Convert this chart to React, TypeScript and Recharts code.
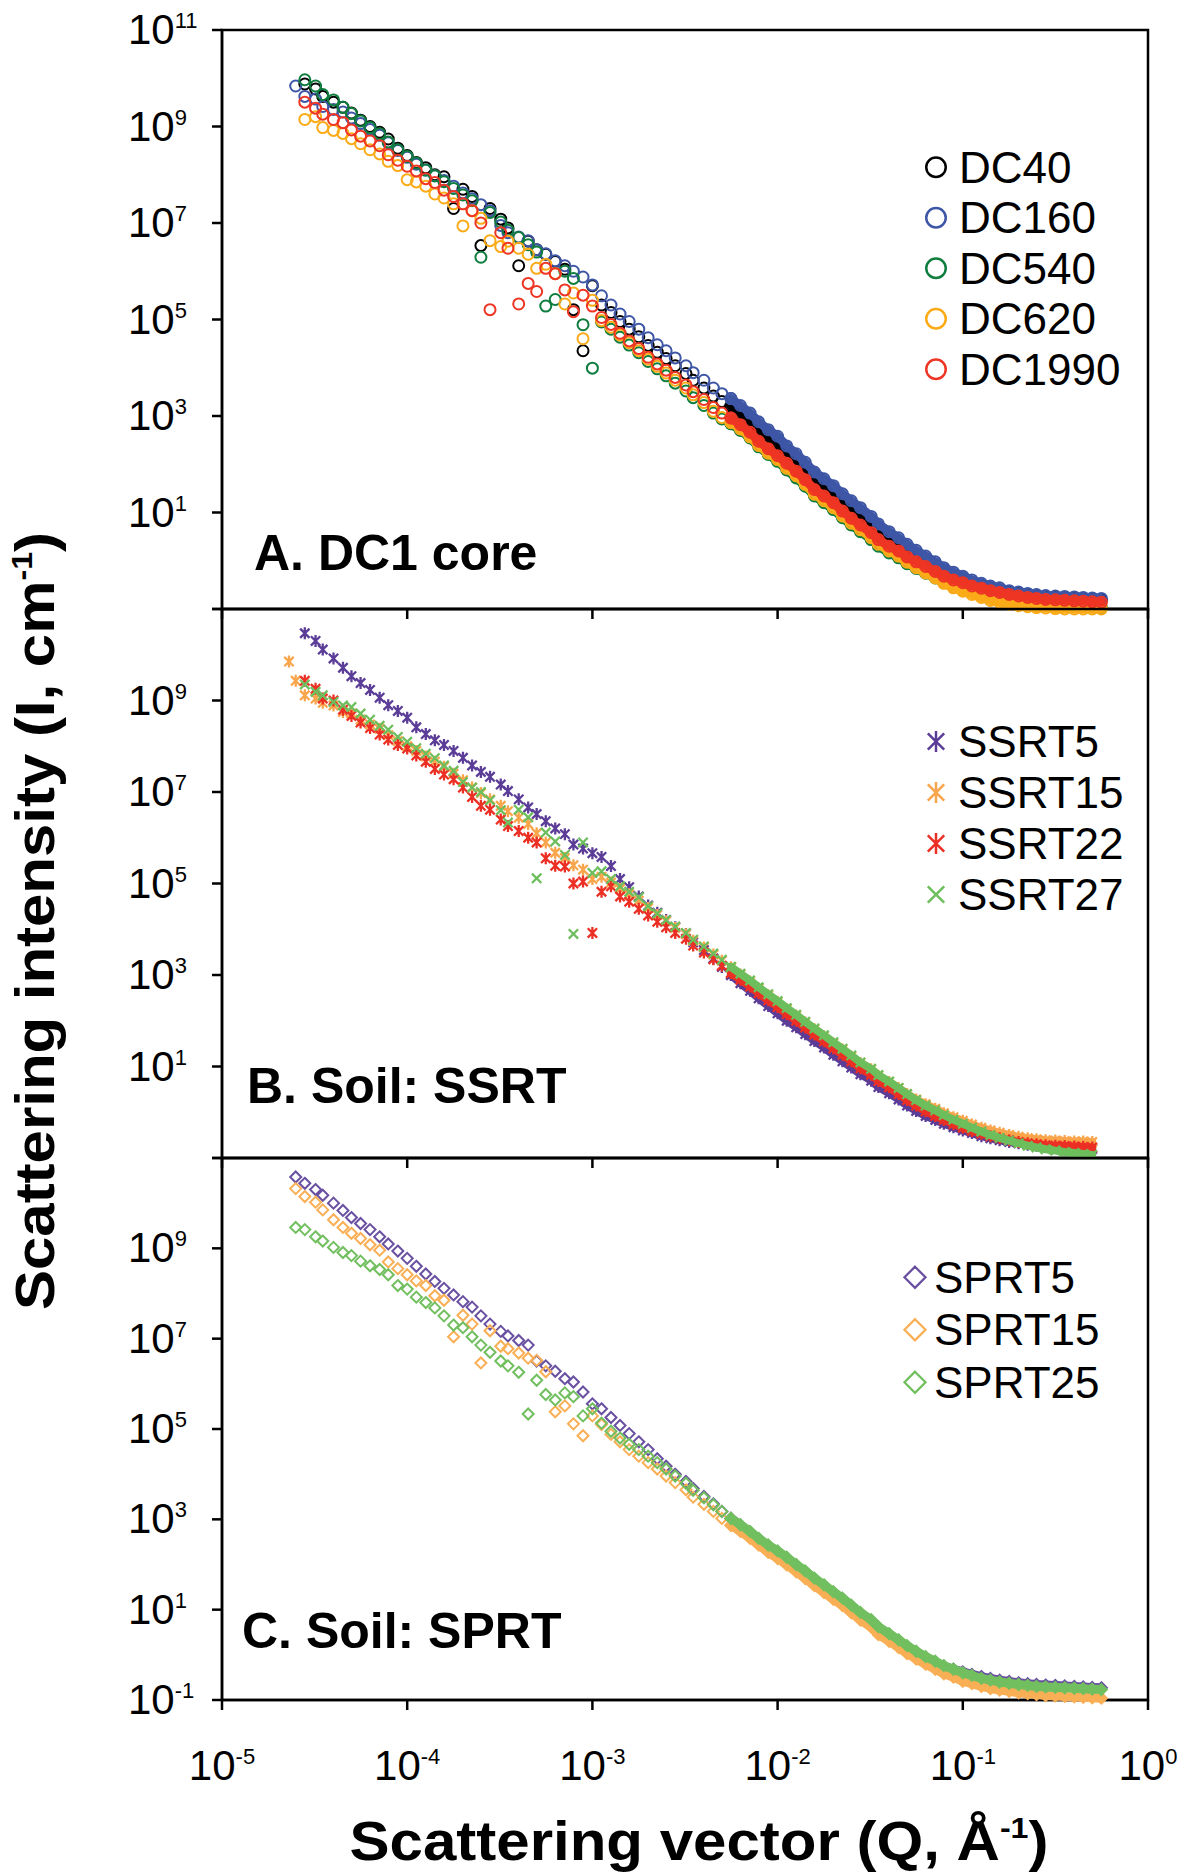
import React from "react";
import { ScatterChart, Scatter, XAxis, YAxis, ReferenceArea, Legend } from "recharts";

const FONT = "'Liberation Sans', Arial, Helvetica, sans-serif";

// scattering vector Q (1/Å), the same grid for every sample
const qValues = [
  2.3e-5, 2.5e-5, 2.8e-5, 3.2e-5, 3.5e-5, 4.0e-5, 4.5e-5, 5.0e-5, 5.6e-5, 6.3e-5,
  7.1e-5, 7.9e-5, 8.9e-5, 1.0e-4, 1.12e-4, 1.26e-4, 1.41e-4, 1.58e-4, 1.78e-4, 2.0e-4,
  2.24e-4, 2.5e-4, 2.8e-4, 3.2e-4, 3.5e-4, 4.0e-4, 4.5e-4, 5.0e-4, 5.6e-4, 6.3e-4,
  7.1e-4, 7.9e-4, 8.9e-4, 1.0e-3, 1.12e-3, 1.26e-3, 1.41e-3, 1.58e-3, 1.78e-3, 2.0e-3,
  2.24e-3, 2.5e-3, 2.8e-3, 3.2e-3, 3.5e-3, 4.0e-3, 4.5e-3, 5.0e-3, 5.6e-3, 6.3e-3,
  7.1e-3, 7.9e-3, 8.9e-3, 1.0e-2, 1.12e-2, 1.26e-2, 1.41e-2, 1.58e-2, 1.78e-2, 2.0e-2,
  2.24e-2, 2.5e-2, 2.8e-2, 3.2e-2, 3.5e-2, 4.0e-2, 4.5e-2, 5.0e-2, 5.6e-2, 6.3e-2,
  7.1e-2, 7.9e-2, 8.9e-2, 0.1, 0.112, 0.126, 0.141, 0.158, 0.178, 0.2,
  0.224, 0.25, 0.28, 0.316, 0.355, 0.4, 0.447, 0.5, 0.56,
];

// A. DC1 core — intensity I (1/cm)
const dc40 = [
  null, null, 7.6e9, 6.0e9, 4.2e9, 3.2e9, 2.5e9, 1.9e9, 1.35e9, 1.0e9,
  7.6e8, 5.5e8, 3.55e8, 2.5e8, 1.8e8, 1.4e8, 1.0e8, 9.1e7, 2.0e7, 5.0e7,
  3.55e7, 3.4e6, 2.0e7, 1.2e7, 7.9e6, 1.3e6, 4.2e6, 2.8e6, 2.25e6, 1.6e6,
  1.1e6, 1.6e5, 2.25e4, 5.0e5, 2.0e5, 1.4e5, 9.1e4, 6.3e4, 4.4e4, 2.9e4,
  2.1e4, 1.55e4, 1.1e4, 7.6e3, 5.5e3, 3.8e3, 2.6e3, 2.0e3, 1.6e3, 1.15e3,
  790, 520, 360, 260, 175, 120, 79, 50, 36, 26,
  18, 12.6, 9.1, 6.0, 4.3, 3.0, 2.35, 1.75, 1.3, 1.0,
  0.79, 0.62, 0.5, 0.43, 0.355, 0.31, 0.275, 0.25, 0.224, 0.21,
  0.195, 0.186, 0.178, 0.174, 0.17, 0.166, 0.162, 0.158, 0.155,
];
const dc160 = [
  null, 6.9e9, 4.2e9, 3.7e9, 2.6e9, 2.25e9, 2.0e9, 1.5e9, 1.15e9, 8.7e8,
  6.6e8, 4.6e8, 3.2e8, 2.3e8, 1.65e8, 1.25e8, 9.5e7, 7.6e7, 5.8e7, 4.2e7,
  3.2e7, 2.4e7, 1.8e7, 8.9e6, 6.3e6, 5.1e6, 4.3e6, 2.8e6, 2.3e6, 1.65e6,
  1.3e6, 1.0e6, 7.6e5, 5.2e5, 3.1e5, 2.0e5, 1.3e5, 9.1e4, 6.3e4, 4.2e4,
  3.0e4, 2.25e4, 1.6e4, 1.1e4, 7.9e3, 5.5e3, 3.8e3, 2.9e3, 2.3e3, 1.65e3,
  1150, 760, 520, 380, 240, 165, 110, 69, 50, 36,
  24.5, 17.5, 12.6, 8.3, 5.8, 4.0, 3.0, 2.2, 1.65, 1.25,
  0.95, 0.72, 0.58, 0.48, 0.4, 0.34, 0.3, 0.275, 0.24, 0.224,
  0.21, 0.2, 0.19, 0.186, 0.182, 0.178, 0.174, 0.17, 0.166,
];
const dc540 = [
  null, null, 9.3e9, 6.9e9, 4.6e9, 3.55e9, 2.5e9, 1.85e9, 1.3e9, 9.5e8,
  7.1e8, 4.8e8, 3.3e8, 2.4e8, 1.75e8, 1.25e8, 9.5e7, 7.2e7, 5.2e7, 3.8e7,
  2.9e7, 1.95e6, 1.65e7, 1.05e7, 7.1e6, 5.0e6, 3.55e6, 2.5e6, 1.9e5, 2.6e5,
  1.0e6, 7.1e5, 7.8e4, 9.8e3, 8.9e4, 6.3e4, 4.3e4, 2.95e4, 2.05e4, 1.35e4,
  9.5e3, 6.8e3, 4.8e3, 3.3e3, 2.4e3, 1.65e3, 1.15e3, 870, 690, 500,
  350, 230, 160, 115, 76, 52, 35, 22, 16, 11.5,
  7.8, 5.5, 4.0, 2.75, 2.0, 1.45, 1.15, 0.87, 0.69, 0.55,
  0.44, 0.35, 0.295, 0.26, 0.23, 0.204, 0.18, 0.166, 0.15, 0.141,
  0.132, 0.126, 0.12, 0.117, 0.115, 0.112, 0.112, 0.11, 0.107,
];
const dc620 = [
  null, null, 1.4e9, 1.6e9, 9.5e8, 8.3e8, 7.2e8, 5.6e8, 4.4e8, 3.3e8,
  2.7e8, 1.9e8, 1.55e8, 7.9e7, 7.1e7, 5.8e7, 4.0e7, 3.3e7, 2.5e7, 8.7e6,
  1.8e7, 1.25e7, 4.3e6, 3.25e6, 4.2e6, 3.0e6, 2.25e6, 1.15e6, 1.4e6, 8.9e5,
  2.1e5, 3.55e5, 4.0e4, 2.5e5, 9.5e4, 6.9e4, 4.8e4, 3.3e4, 2.25e4, 1.5e4,
  1.07e4, 7.8e3, 5.5e3, 3.8e3, 2.75e3, 1.9e3, 1.25e3, 930, 740, 540,
  370, 245, 170, 125, 83, 58, 38, 24, 17.5, 12.6,
  8.5, 6.0, 4.4, 3.0, 2.2, 1.6, 1.25, 0.93, 0.72, 0.56,
  0.44, 0.34, 0.275, 0.234, 0.2, 0.174, 0.15, 0.138, 0.126, 0.117,
  0.112, 0.107, 0.105, 0.102, 0.1, 0.1, 0.1, 0.1, 0.1,
];
const dc1990 = [
  null, null, 3.2e9, 2.4e9, 1.8e9, 1.4e9, 1.2e9, 8.5e8, 6.3e8, 5.0e8,
  4.0e8, 2.6e8, 2.0e8, 1.5e8, 1.2e8, 8.3e7, 6.9e7, 4.8e7, 3.55e7, 2.5e7,
  1.8e7, 1.0e7, 1.6e5, 6.3e6, 3.0e6, 2.1e5, 5.6e5, 3.8e5, 1.15e6, 8.9e5,
  4.1e5, 1.45e5, 3.2e5, 1.9e5, 1.1e5, 7.9e4, 5.2e4, 3.6e4, 2.5e4, 1.65e4,
  1.2e4, 8.9e3, 6.3e3, 4.4e3, 3.2e3, 2.2e3, 1.5e3, 1.15e3, 910, 660,
  460, 300, 210, 150, 105, 72, 48, 30, 22, 16,
  10.7, 7.6, 5.5, 3.8, 2.75, 2.0, 1.6, 1.2, 0.95, 0.76,
  0.6, 0.48, 0.4, 0.35, 0.3, 0.27, 0.24, 0.22, 0.2, 0.186,
  0.174, 0.166, 0.158, 0.155, 0.151, 0.148, 0.145, 0.141, 0.138,
];

// B. Soil: SSRT
const ssrt5 = [
  null, null, 2.95e10, 2.0e10, 1.3e10, 8.3e9, 5.2e9, 3.4e9, 2.4e9, 1.7e9,
  1.15e9, 7.9e8, 5.9e8, 4.2e8, 2.6e8, 1.85e8, 1.35e8, 1.07e8, 7.9e7, 5.6e7,
  3.8e7, 2.75e7, 2.15e7, 1.45e7, 1.05e7, 6.9e6, 4.6e6, 3.3e6, 2.3e6, 1.6e6,
  1.2e6, 7.1e5, 5.8e5, 4.6e5, 3.8e5, 2.4e5, 1.25e5, 8.3e4, 5.2e4, 3.3e4,
  2.3e4, 1.6e4, 1.1e4, 7.9e3, 5.2e3, 3.5e3, 2.3e3, 1.5e3, 1.0e3, 660,
  450, 310, 210, 145, 100, 72, 51, 36, 26, 18,
  13, 9.5, 6.8, 4.9, 3.55, 2.6, 1.9, 1.4, 1.07, 0.83,
  0.68, 0.56, 0.47, 0.4, 0.35, 0.3, 0.27, 0.245, 0.224, 0.21,
  0.195, 0.186, 0.178, 0.174, 0.17, 0.166, 0.162, 0.158, null,
];
const ssrt15 = [
  7.1e9, 2.7e9, 1.3e9, 1.1e9, 8.9e8, 7.8e8, 5.6e8, 5.2e8, 3.8e8, 3.0e8,
  2.4e8, 1.75e8, 1.3e8, 1.0e8, 7.9e7, 6.0e7, 4.6e7, 3.55e7, 2.5e7, 1.8e7,
  1.25e7, 9.5e6, 6.9e6, 5.0e6, 3.8e6, 2.75e6, 2.0e6, 1.25e6, 7.9e5, 4.7e5,
  3.6e5, 2.5e5, 2.0e5, 1.25e5, 1.4e5, 1.05e5, 7.6e4, 5.8e4, 4.2e4, 2.9e4,
  2.05e4, 1.5e4, 1.07e4, 7.8e3, 5.6e3, 4.0e3, 2.8e3, 2.05e3, 1.45e3, 1.02e3,
  720, 510, 360, 260, 180, 130, 91, 65, 46, 32,
  23.5, 16.5, 12, 8.7, 6.3, 4.6, 3.4, 2.5, 1.9, 1.5,
  1.2, 0.95, 0.78, 0.65, 0.54, 0.46, 0.4, 0.355, 0.32, 0.29,
  0.27, 0.257, 0.245, 0.24, 0.234, 0.23, 0.23, 0.224, null,
];
const ssrt22 = [
  null, null, 2.7e9, 1.8e9, 1.1e9, 1.0e9, 6.3e8, 4.6e8, 3.3e8, 2.5e8,
  1.8e8, 1.4e8, 1.07e8, 8.9e7, 6.3e7, 4.6e7, 3.2e7, 2.4e7, 1.9e7, 1.25e7,
  7.8e6, 5.0e6, 4.1e6, 2.5e6, 1.8e6, 1.4e6, 1.0e6, 7.9e5, 3.55e5, 2.45e5,
  2.35e5, 1.0e5, 1.1e5, 8.3e3, 6.6e4, 8.7e4, 5.2e4, 4.0e4, 2.8e4, 2.0e4,
  1.45e4, 1.1e4, 8.3e3, 6.2e3, 4.4e3, 3.1e3, 2.2e3, 1.6e3, 1.1e3, 790,
  560, 400, 280, 200, 140, 100, 71, 50, 35.5, 25,
  18, 13, 9.1, 6.6, 4.8, 3.5, 2.5, 1.85, 1.4, 1.05,
  0.83, 0.68, 0.55, 0.46, 0.39, 0.34, 0.3, 0.27, 0.245, 0.224,
  0.21, 0.2, 0.19, 0.186, 0.182, 0.178, 0.174, 0.17, null,
];
const ssrt27 = [
  null, null, 2.25e9, 1.55e9, 1.3e9, 9.3e8, 7.8e8, 7.2e8, 5.2e8, 3.8e8,
  2.8e8, 2.3e8, 1.6e8, 1.25e8, 9.1e7, 6.9e7, 5.5e7, 3.8e7, 2.9e7, 1.65e7,
  1.25e7, 1.0e7, 6.6e6, 4.0e6, 2.15e6, 4.1e6, 2.8e6, 1.3e5, 1.3e6, 8.3e5,
  4.2e5, 7.9e3, 7.9e5, 1.7e5, 1.85e5, 1.25e5, 8.7e4, 6.6e4, 5.0e4, 3.2e4,
  2.2e4, 1.6e4, 1.15e4, 8.3e3, 5.9e3, 4.2e3, 2.95e3, 2.15e3, 1.5e3, 1.07e3,
  760, 540, 380, 270, 190, 135, 95, 68, 48, 34,
  24.5, 17.5, 12.3, 8.9, 6.5, 4.7, 3.4, 2.5, 1.85, 1.4,
  1.1, 0.87, 0.69, 0.56, 0.46, 0.38, 0.32, 0.275, 0.24, 0.21,
  0.186, 0.17, 0.155, 0.145, 0.135, 0.129, 0.123, 0.117, null,
];

// C. Soil: SPRT
const sprt5 = [
  null, 3.8e10, 2.75e10, 2.0e10, 1.5e10, 1.0e10, 6.9e9, 4.8e9, 3.55e9, 2.6e9,
  1.8e9, 1.25e9, 8.7e8, 6.0e8, 4.0e8, 2.7e8, 1.85e8, 1.3e8, 9.3e7, 6.6e7,
  5.0e7, 3.2e7, 2.1e7, 1.45e7, 1.15e7, 9.1e6, 7.2e6, 3.2e6, 2.5e6, 1.9e6,
  1.3e6, 1.1e6, 6.6e5, 3.6e5, 2.8e5, 1.8e5, 1.2e5, 7.9e4, 5.2e4, 3.5e4,
  2.2e4, 1.5e4, 1.0e4, 6.9e3, 4.8e3, 3.2e3, 2.2e3, 1.5e3, 1.05e3, 740,
  510, 355, 245, 170, 130, 91, 65, 45, 32, 22,
  16, 11, 7.8, 5.4, 3.7, 2.6, 1.9, 1.4, 1.07, 0.83,
  0.68, 0.56, 0.48, 0.42, 0.37, 0.33, 0.3, 0.275, 0.257, 0.24,
  0.23, 0.22, 0.214, 0.21, 0.204, 0.2, 0.195, 0.19, 0.186,
];
const sprt15 = [
  null, 2.1e10, 1.4e10, 1.05e10, 7.1e9, 4.3e9, 2.9e9, 2.15e9, 1.65e9, 1.2e9,
  9.1e8, 5.0e8, 3.55e8, 2.6e8, 1.9e8, 1.5e8, 8.9e7, 7.1e7, 1.1e7, 3.3e7,
  2.1e7, 2.9e6, 1.5e7, 6.8e6, 6.0e6, 4.8e6, 3.7e6, 3.3e6, 1.85e6, 2.4e5,
  3.25e5, 1.3e5, 7.1e4, 1.95e5, 1.25e5, 7.6e4, 5.2e4, 3.5e4, 2.5e4, 1.8e4,
  1.3e4, 9.1e3, 6.5e3, 4.5e3, 3.1e3, 2.15e3, 1.5e3, 1.05e3, 740, 540,
  380, 270, 185, 135, 98, 69, 49, 34, 24, 17,
  12.3, 8.5, 5.9, 4.1, 2.8, 2.0, 1.45, 1.07, 0.81, 0.62,
  0.48, 0.38, 0.32, 0.26, 0.23, 0.2, 0.18, 0.166, 0.155, 0.145,
  0.138, 0.132, 0.126, 0.123, 0.12, 0.117, 0.115, 0.112, 0.11,
];
const sprt25 = [
  null, 2.9e9, 2.6e9, 1.8e9, 1.45e9, 1.05e9, 8.1e8, 6.9e8, 5.2e8, 4.1e8,
  3.4e8, 2.6e8, 1.5e8, 1.25e8, 8.3e7, 6.3e7, 4.8e7, 3.2e7, 2.0e7, 1.75e7,
  1.1e7, 7.2e6, 5.0e6, 3.2e6, 2.5e6, 1.8e6, 2.15e5, 1.2e6, 5.8e5, 4.4e5,
  6.3e5, 5.2e5, 1.95e5, 2.8e5, 1.35e5, 8.9e4, 6.3e4, 4.6e4, 3.5e4, 2.5e4,
  1.8e4, 1.3e4, 9.1e3, 6.3e3, 4.4e3, 3.0e3, 2.1e3, 1.5e3, 1.05e3, 760,
  540, 380, 270, 200, 145, 100, 72, 50, 35.5, 25,
  18, 12.6, 8.7, 6.0, 4.2, 2.95, 2.15, 1.6, 1.2, 0.91,
  0.72, 0.575, 0.48, 0.4, 0.35, 0.3, 0.275, 0.25, 0.234, 0.22,
  0.21, 0.2, 0.195, 0.19, 0.186, 0.182, 0.178, 0.174, 0.17,
];

const xTicks = [1e-5, 1e-4, 1e-3, 1e-2, 1e-1, 1];
const yTicks = [1e-1, 1e1, 1e3, 1e5, 1e7, 1e9, 1e11];

type Marker = "ring" | "star" | "cross" | "diamond";
type Series = { name: string; color: string; marker: Marker; values: (number | null)[] };

const seriesA: Series[] = [
  { name: "DC40", color: "#000000", marker: "ring", values: dc40 },
  { name: "DC160", color: "#3E56A6", marker: "ring", values: dc160 },
  { name: "DC540", color: "#0E7D3E", marker: "ring", values: dc540 },
  { name: "DC620", color: "#FBAB18", marker: "ring", values: dc620 },
  { name: "DC1990", color: "#EE3524", marker: "ring", values: dc1990 },
];
const seriesB: Series[] = [
  { name: "SSRT5", color: "#5B3D98", marker: "star", values: ssrt5 },
  { name: "SSRT15", color: "#F9A54B", marker: "star", values: ssrt15 },
  { name: "SSRT22", color: "#EC2F24", marker: "star", values: ssrt22 },
  { name: "SSRT27", color: "#6DBE5C", marker: "cross", values: ssrt27 },
];
const seriesC: Series[] = [
  { name: "SPRT5", color: "#6950A1", marker: "diamond", values: sprt5 },
  { name: "SPRT15", color: "#F9AF55", marker: "diamond", values: sprt15 },
  { name: "SPRT25", color: "#72BF60", marker: "diamond", values: sprt25 },
];

// index where the measurements get dense enough to read as a solid band
const DENSE_FROM = 48;

function points(values: (number | null)[], from: number, to: number) {
  const out: { q: number; v: number }[] = [];
  values.forEach((v, i) => {
    if (v != null && i >= from && i <= to) out.push({ q: qValues[i], v });
  });
  return out;
}

function Glyph({ kind, cx, cy, color, size }: { kind: Marker; cx: number; cy: number; color: string; size: number }) {
  const r = size / 2;
  const big = size > 14;
  if (kind === "ring") {
    return <circle cx={cx} cy={cy} r={r} fill="none" stroke={color} strokeWidth={big ? 2.5 : 2} />;
  }
  if (kind === "diamond") {
    return (
      <path
        d={`M${cx},${cy - r}L${cx + r},${cy}L${cx},${cy + r}L${cx - r},${cy}Z`}
        fill="none"
        stroke={color}
        strokeWidth={big ? 2.3 : 2}
      />
    );
  }
  const d = r * 0.78;
  let path = `M${cx - d},${cy - d}L${cx + d},${cy + d}M${cx - d},${cy + d}L${cx + d},${cy - d}`;
  if (kind === "star") path += `M${cx},${cy - r}L${cx},${cy + r}`;
  return <path d={path} fill="none" stroke={color} strokeWidth={big ? 2.5 : 2.3} />;
}

function YTick(props: any) {
  const { y, payload, hidden } = props;
  const exp = Math.round(Math.log10(payload.value));
  if (hidden.includes(exp)) return <g />;
  return (
    <text x={128} y={y + 14} fontFamily={FONT} fontSize={42} fill="#000">
      10
      <tspan fontSize={22} dy={-16}>
        {exp}
      </tspan>
    </text>
  );
}

function XTick(props: any) {
  const { x, y, payload, show } = props;
  if (!show) return <g />;
  const exp = Math.round(Math.log10(payload.value));
  return (
    <text x={x} y={y + 68} textAnchor="middle" fontFamily={FONT} fontSize={42} fill="#000">
      10
      <tspan fontSize={22} dy={-16}>
        {exp}
      </tspan>
    </text>
  );
}

type LegendCfg = { left: number; top: number; gap: number; textX: number };

type PanelCfg = {
  top: number;
  plotHeight: number;
  axisHeight: number;
  series: Series[];
  hiddenY: number[];
  showX: boolean;
  markerSize: number;
  lineWidth: number;
  legend: LegendCfg;
};

function PanelLegend({ payload, series, cfg }: { payload?: any[]; series: Series[]; cfg: LegendCfg }) {
  const seen = new Set<string>();
  const order = (name: string) => series.findIndex((s) => s.name === name);
  const items = (payload || [])
    .filter((e) => {
      if (e.type === "none" || seen.has(e.value)) return false;
      seen.add(e.value);
      return true;
    })
    .sort((a, b) => order(a.value) - order(b.value));
  return (
    <svg width={270} height={items.length * cfg.gap + 10} style={{ overflow: "visible" }}>
      {items.map((e, i) => {
        const s = series[order(e.value)];
        const cy = cfg.gap / 2 + i * cfg.gap;
        return (
          <g key={e.value}>
            <Glyph kind={s ? s.marker : "ring"} cx={20} cy={cy} color={e.color} size={s && s.marker === "ring" ? 19.5 : 21} />
            <text x={cfg.textX} y={cy + 15.5} fontFamily={FONT} fontSize={44} fill="#000">
              {e.value}
            </text>
          </g>
        );
      })}
    </svg>
  );
}

function Panel({ cfg }: { cfg: PanelCfg }) {
  const plotTop = 30;
  const height = plotTop + cfg.plotHeight + cfg.axisHeight;
  const axisStyle = { stroke: "#000", strokeWidth: 2.5 };
  return (
    <div style={{ position: "absolute", left: 0, top: cfg.top }}>
      <ScatterChart width={1194} height={height} margin={{ top: plotTop, right: 46, bottom: 0, left: 0 }}>
        <XAxis
          dataKey="q"
          type="number"
          scale="log"
          domain={[1e-5, 1]}
          ticks={xTicks}
          interval={0}
          height={cfg.axisHeight}
          tickSize={10}
          axisLine={axisStyle}
          tickLine={axisStyle}
          tick={(p: any) => <XTick {...p} show={cfg.showX} />}
        />
        <YAxis
          dataKey="v"
          type="number"
          scale="log"
          domain={[0.1, 1e11]}
          ticks={yTicks}
          interval={0}
          width={222}
          tickSize={10}
          axisLine={axisStyle}
          tickLine={axisStyle}
          tick={(p: any) => <YTick {...p} hidden={cfg.hiddenY} />}
        />
        <ReferenceArea
          x1={1e-5}
          x2={1}
          y1={0.1}
          y2={1e11}
          fill="none"
          fillOpacity={0}
          stroke="#000"
          strokeWidth={2.5}
          ifOverflow="visible"
        />
        {cfg.series.flatMap((s) => [
          <Scatter
            key={s.name + "-sparse"}
            name={s.name}
            data={points(s.values, 0, DENSE_FROM)}
            fill={s.color}
            isAnimationActive={false}
            shape={(p: any) => <Glyph kind={s.marker} cx={p.cx} cy={p.cy} color={s.color} size={cfg.markerSize} />}
          />,
          <Scatter
            key={s.name + "-dense"}
            name={s.name}
            legendType="none"
            data={points(s.values, DENSE_FROM, qValues.length - 1)}
            fill={s.color}
            line={{ stroke: s.color, strokeWidth: cfg.lineWidth, strokeLinejoin: "round", strokeLinecap: "round" }}
            isAnimationActive={false}
            shape={(p: any) => <Glyph kind={s.marker} cx={p.cx} cy={p.cy} color={s.color} size={cfg.markerSize} />}
          />,
        ])}
        <Legend
          layout="vertical"
          align="center"
          verticalAlign="middle"
          width={270}
          height={cfg.series.length * cfg.legend.gap + 10}
          wrapperStyle={{ left: cfg.legend.left, top: cfg.legend.top }}
          content={(p: any) => <PanelLegend payload={p.payload} series={cfg.series} cfg={cfg.legend} />}
        />
      </ScatterChart>
    </div>
  );
}

const panels: PanelCfg[] = [
  {
    top: 0,
    plotHeight: 579,
    axisHeight: 20,
    series: seriesA,
    hiddenY: [-1],
    showX: false,
    markerSize: 11,
    lineWidth: 9,
    legend: { left: 916, top: 142, gap: 50.5, textX: 43 },
  },
  {
    top: 579,
    plotHeight: 549,
    axisHeight: 20,
    series: seriesB,
    hiddenY: [-1, 11],
    showX: false,
    markerSize: 12,
    lineWidth: 8,
    legend: { left: 916, top: 137, gap: 51, textX: 42 },
  },
  {
    top: 1128,
    plotHeight: 542,
    axisHeight: 176,
    series: seriesC,
    hiddenY: [11],
    showX: true,
    markerSize: 11,
    lineWidth: 9,
    legend: { left: 895, top: 123, gap: 52.5, textX: 39 },
  },
];

export default function App() {
  return (
    <div style={{ position: "absolute", left: 0, top: 0, width: 1194, height: 1876, background: "#fff" }}>
      {panels.map((cfg, i) => (
        <Panel key={i} cfg={cfg} />
      ))}
      <svg
        width={1194}
        height={1876}
        style={{ position: "absolute", left: 0, top: 0, pointerEvents: "none" }}
        fontFamily={FONT}
      >
        <text x={254} y={570} fontSize={50} fontWeight="bold" fill="#000">
          A. DC1 core
        </text>
        <text x={247} y={1103} fontSize={50} fontWeight="bold" fill="#000">
          B. Soil: SSRT
        </text>
        <text x={242} y={1648} fontSize={50} fontWeight="bold" fill="#000">
          C. Soil: SPRT
        </text>
        <text
          x={699}
          y={1860}
          textAnchor="middle"
          fontSize={56}
          fontWeight="bold"
          fill="#000"
          textLength={699}
          lengthAdjust="spacingAndGlyphs"
        >
          Scattering vector (Q, Å
          <tspan fontSize={30} dy={-22}>
            -1
          </tspan>
          <tspan dy={22}>)</tspan>
        </text>
        <text
          transform="translate(54, 921) rotate(-90)"
          textAnchor="middle"
          fontSize={56}
          fontWeight="bold"
          fill="#000"
          textLength={778}
          lengthAdjust="spacingAndGlyphs"
        >
          Scattering intensity (I, cm
          <tspan fontSize={30} dy={-22}>
            -1
          </tspan>
          <tspan dy={22}>)</tspan>
        </text>
      </svg>
    </div>
  );
}
